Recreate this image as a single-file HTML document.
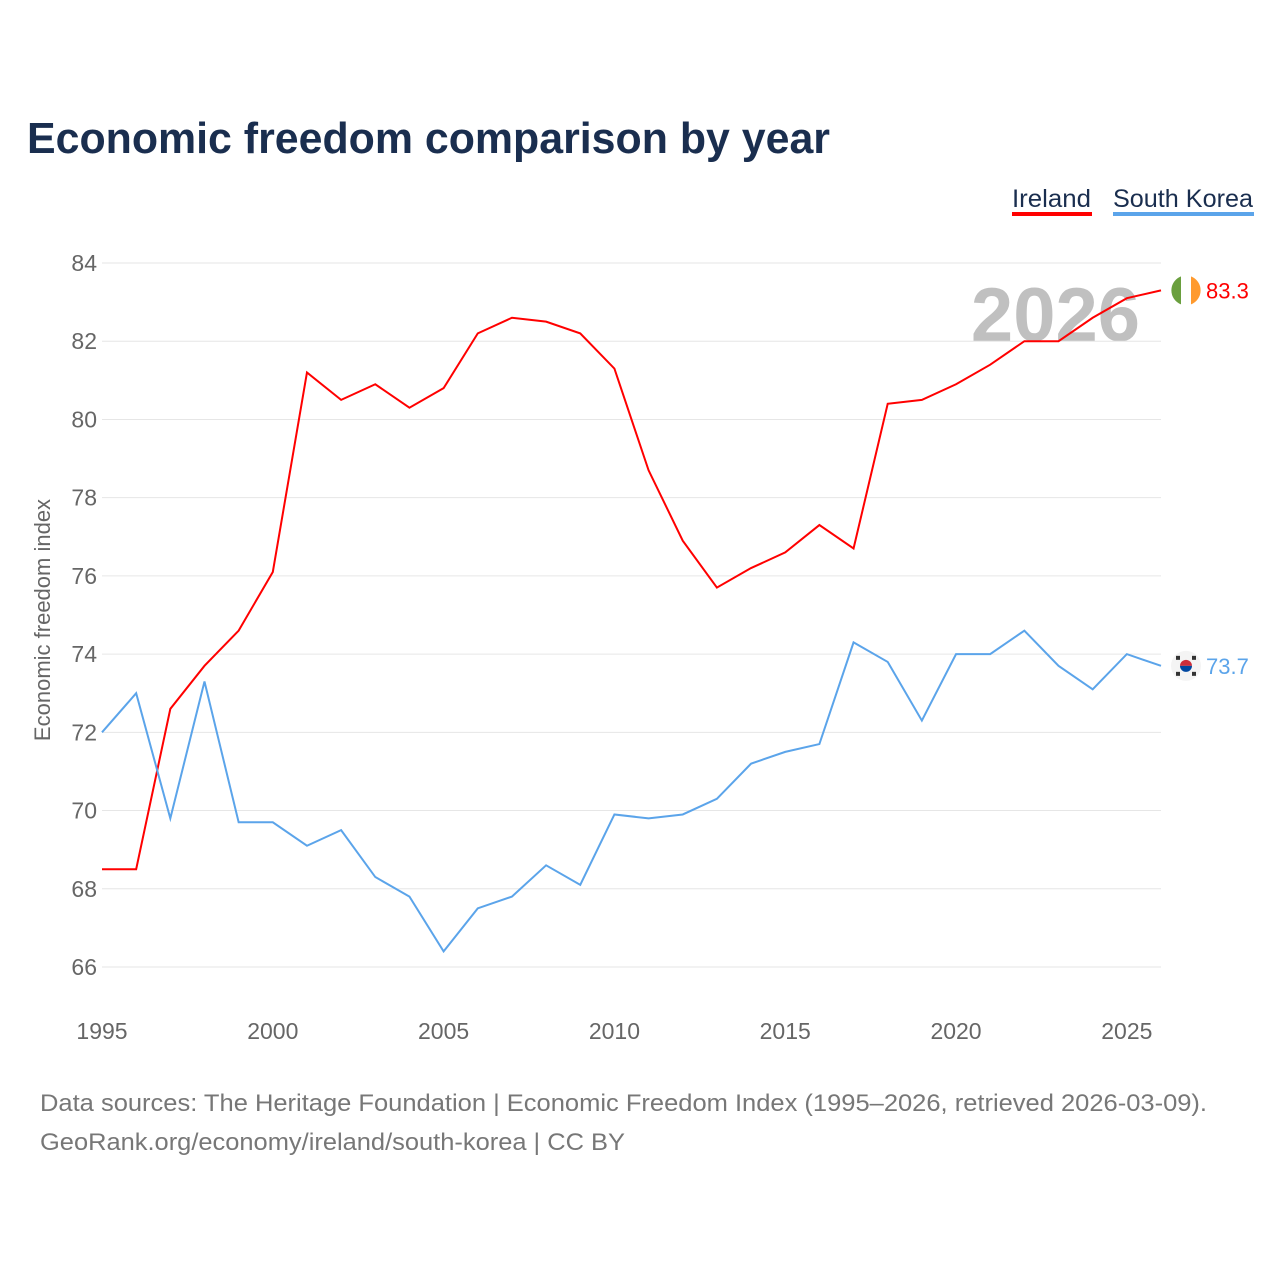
<!DOCTYPE html>
<html><head><meta charset="utf-8">
<style>
body{margin:0;background:#fff;font-family:"Liberation Sans",sans-serif;}
svg{display:block}
</style></head>
<body>
<svg id="chart" width="1280" height="1280" viewBox="0 0 1280 1280">
<text x="27" y="153" font-size="44" font-weight="bold" fill="#1a2e4f" textLength="803" lengthAdjust="spacingAndGlyphs">Economic freedom comparison by year</text>
<g>
<text x="1012" y="207" font-size="25" fill="#1a2e4f" textLength="79" lengthAdjust="spacingAndGlyphs">Ireland</text>
<rect x="1012" y="212" width="80" height="4" fill="#ff0000"/>
<text x="1113" y="207" font-size="25" fill="#1a2e4f" textLength="140" lengthAdjust="spacingAndGlyphs">South Korea</text>
<rect x="1113" y="212" width="141" height="4" fill="#5ba4ea"/>
</g>
<text x="1140" y="341" font-size="76" font-weight="bold" fill="#c0c0c0" text-anchor="end">2026</text>
<text transform="translate(50,620) rotate(-90)" font-size="22" fill="#666" text-anchor="middle">Economic freedom index</text>
<g id="grid"></g><g id="series"></g>
<text x="40" y="1111" font-size="24" fill="#777" textLength="1167" lengthAdjust="spacingAndGlyphs">Data sources: The Heritage Foundation | Economic Freedom Index (1995–2026, retrieved 2026-03-09).</text>
<text x="40" y="1150" font-size="24" fill="#777" textLength="585" lengthAdjust="spacingAndGlyphs">GeoRank.org/economy/ireland/south-korea | CC BY</text>
</svg>
<script>
const years=[1995,1996,1997,1998,1999,2000,2001,2002,2003,2004,2005,2006,2007,2008,2009,2010,2011,2012,2013,2014,2015,2016,2017,2018,2019,2020,2021,2022,2023,2024,2025,2026];
const ireland=[68.5,68.5,72.6,73.7,74.6,76.1,81.2,80.5,80.9,80.3,80.8,82.2,82.6,82.5,82.2,81.3,78.7,76.9,75.7,76.2,76.6,77.3,76.7,80.4,80.5,80.9,81.4,82.0,82.0,82.6,83.1,83.3];
const korea=[72.0,73.0,69.8,73.3,69.7,69.7,69.1,69.5,68.3,67.8,66.4,67.5,67.8,68.6,68.1,69.9,69.8,69.9,70.3,71.2,71.5,71.7,74.3,73.8,72.3,74.0,74.0,74.6,73.7,73.1,74.0,73.7];
const yTicks=[66,68,70,72,74,76,78,80,82,84];
const xTicks=[1995,2000,2005,2010,2015,2020,2025];
const NS="http://www.w3.org/2000/svg";
const X=v=>102+(v-1995)*(1161-102)/31;
const Y=v=>967-(v-66)*(704/18);
const grid=document.getElementById('grid'),ser=document.getElementById('series');
function mk(tag,at,parent){const e=document.createElementNS(NS,tag);for(const k in at)e.setAttribute(k,at[k]);parent.appendChild(e);return e;}
yTicks.forEach(t=>{
 const l=mk('line',{x1:102,x2:1161,y1:Y(t),y2:Y(t),stroke:'#e6e6e6','stroke-width':1},grid);
 
 
 const tx=mk('text',{x:97,y:Y(t)+8,'font-size':23,fill:'#666','text-anchor':'end'},grid);
 tx.textContent=t;
 
 
});
xTicks.forEach(t=>{
 const tx=mk('text',{x:X(t),y:1039,'font-size':23,fill:'#666','text-anchor':'middle'},grid);
 tx.textContent=t;
 
 
});
function line(vals,color,name){
 const p=mk('polyline',{points:vals.map((v,i)=>X(years[i])+','+Y(v)).join(' '),fill:'none',stroke:color,'stroke-width':2},ser);
 
 
 const last=vals[vals.length-1];
 const tx=mk('text',{x:1206,y:Y(last)+8,'font-size':22,fill:color},ser);
 tx.textContent=last.toFixed(1);
 
 
 return Y(last);
}
const yi=line(ireland,'#ff0000','ireland');
const yk=line(korea,'#5ba4ea','south-korea');
const fi=mk('g',{},ser);


mk('circle',{cx:1186,cy:yi,r:15,fill:'#fff'},fi);
mk('path',{d:`M1181 ${yi-14} A15 15 0 0 0 1181 ${yi+14} Z`,fill:'#6a9f3e'},fi);
mk('path',{d:`M1191 ${yi-14} A15 15 0 0 1 1191 ${yi+14} Z`,fill:'#ff9a2e'},fi);
const fk=mk('g',{},ser);


mk('circle',{cx:1186,cy:yk,r:15,fill:'#f4f4f4'},fk);
mk('path',{d:`M1180 ${yk} A6 6 0 0 1 1192 ${yk} Z`,fill:'#cd2e3a'},fk);
mk('path',{d:`M1180 ${yk} A6 6 0 0 0 1192 ${yk} Z`,fill:'#0047a0'},fk);
[[-8,-8],[8,-8],[-8,8],[8,8]].forEach(([dx,dy])=>mk('rect',{x:1186+dx-2,y:yk+dy-2,width:4,height:4,fill:'#333'},fk));
</script>
</body></html>
